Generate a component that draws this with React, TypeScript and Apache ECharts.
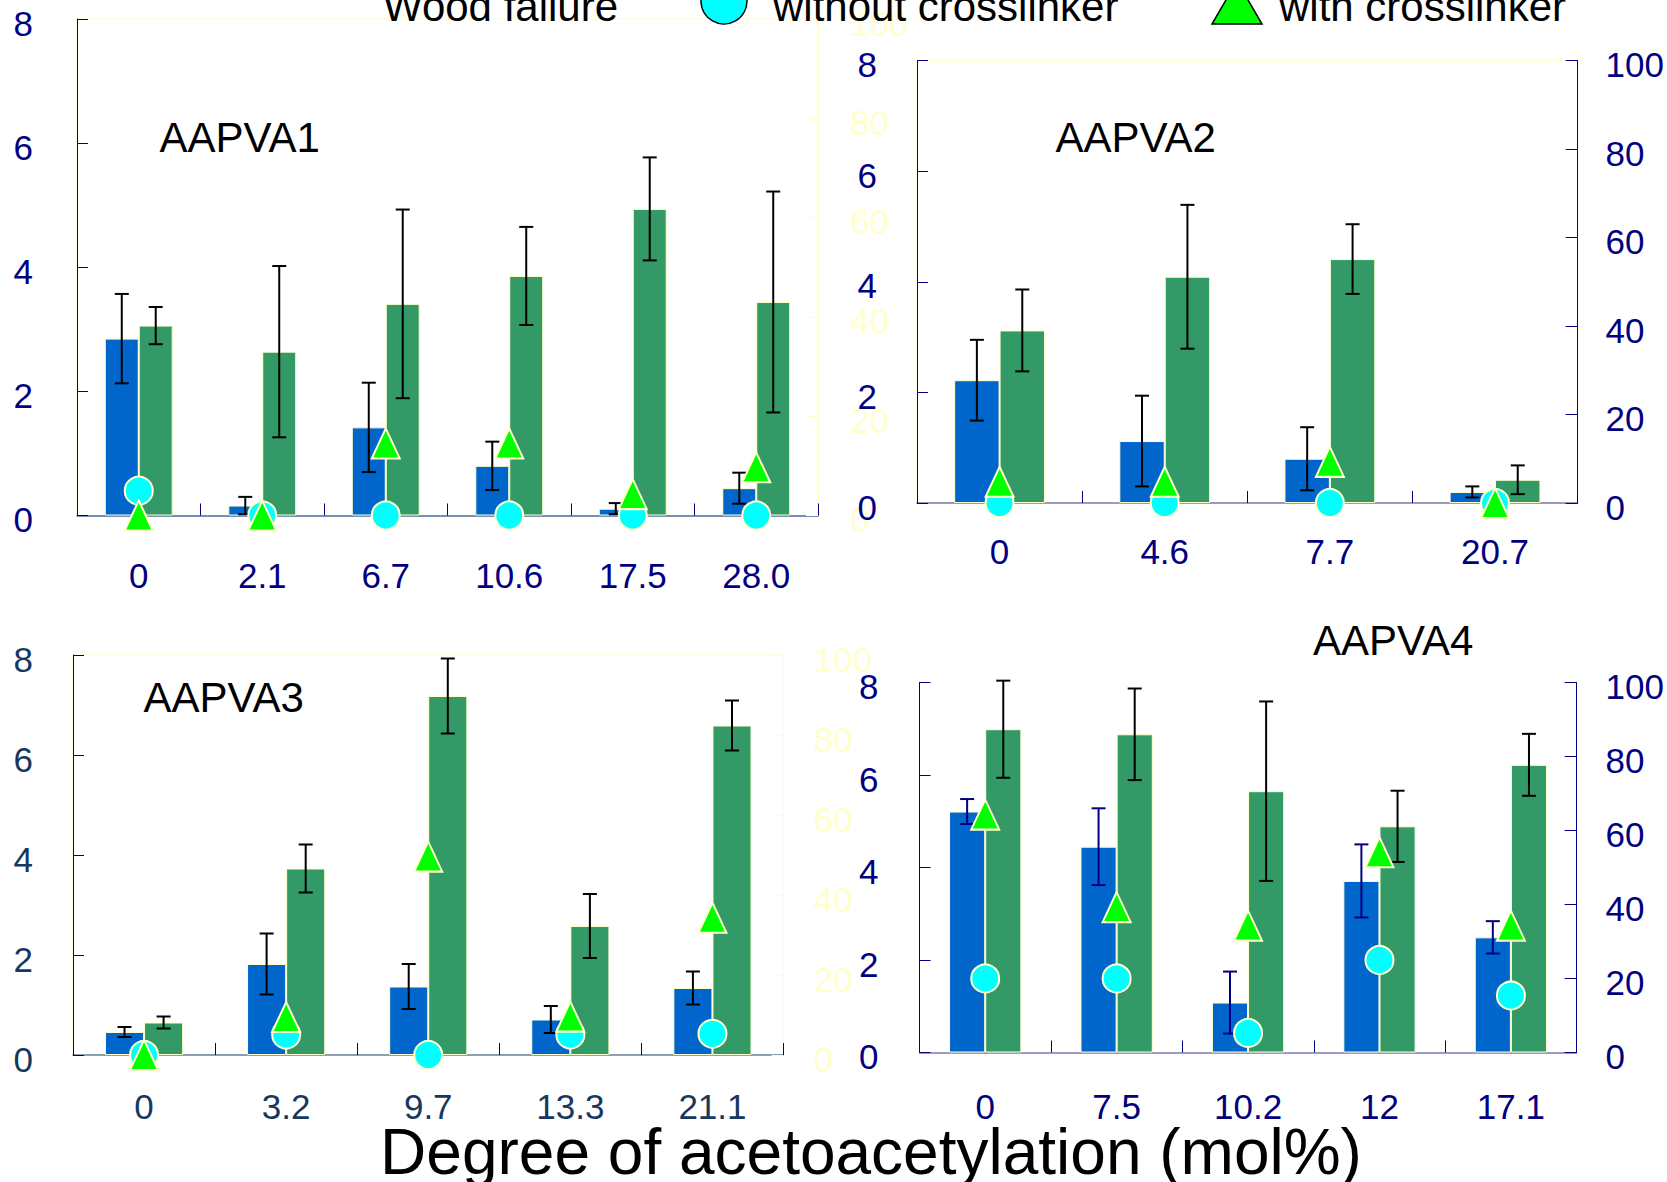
import React, { useEffect, useRef } from "react";
import * as echarts from "echarts";

// ---------- data ----------
const cats1 = ["0", "2.1", "6.7", "10.6", "17.5", "28.0"];
const blue1 = [2.85, 0.16, 1.42, 0.8, 0.11, 0.44];
const blueErr1 = [0.72, 0.14, 0.72, 0.39, 0.09, 0.25];
const green1 = [3.06, 2.64, 3.41, 3.86, 4.94, 3.44];
const greenErr1 = [0.3, 1.38, 1.52, 0.79, 0.83, 1.78];
const wfWithout1 = [5, 0, 0, 0, 0, 0];
const wfWith1 = [0, 0, 14.5, 14.5, 4.3, 9.7];

const cats2 = ["0", "4.6", "7.7", "20.7"];
const blue2 = [2.22, 1.12, 0.8, 0.2];
const blueErr2 = [0.73, 0.82, 0.57, 0.1];
const green2 = [3.12, 4.09, 4.41, 0.42];
const greenErr2 = [0.74, 1.3, 0.63, 0.26];
const wfWithout2 = [0, 0, 0, 0];
const wfWith2 = [4.8, 4.8, 9.3, 0];

const cats3 = ["0", "3.2", "9.7", "13.3", "21.1"];
const blue3 = [0.46, 1.82, 1.37, 0.71, 1.34];
const blueErr3 = [0.1, 0.61, 0.45, 0.27, 0.33];
const green3 = [0.65, 3.73, 7.18, 2.58, 6.59];
const greenErr3 = [0.12, 0.48, 0.75, 0.64, 0.5];
const wfWithout3 = [0, 5.1, 0, 5.1, 5.3];
const wfWith3 = [0, 9.5, 49.6, 9.6, 34.3];

const cats4 = ["0", "7.5", "10.2", "12", "17.1"];
const blue4 = [5.21, 4.45, 1.08, 3.71, 2.49];
const blueErr4 = [0.27, 0.83, 0.67, 0.79, 0.35];
const green4 = [6.99, 6.88, 5.65, 4.89, 6.22];
const greenErr4 = [1.05, 0.99, 1.94, 0.77, 0.67];
const wfWithout4 = [20, 20, 5.3, 25, 15.4];
const wfWith4 = [64.3, 39.3, 34.3, 54.1, 34.3];

const panelTitles = ["AAPVA1", "AAPVA2", "AAPVA3", "AAPVA4"];
const legendLabels = ["Wood failure", "without crosslinker", "with crosslinker"];
const xAxisTitle = "Degree of acetoacetylation (mol%)";

// ---------- style ----------
const NAVY = "#000080";
const SLATE = "#17375E";
const PALE = "#FFFFCC";
const BLUE = "#0066CC";
const GREEN = "#339966";
const CYAN = "#00FFFF";
const LIME = "#00FF00";
const SANS = "'Liberation Sans', Arial, sans-serif";
const BAR_FRAC = 0.275;

type Panel = {
  cats: string[];
  blue: number[];
  blueErr: number[];
  green: number[];
  greenErr: number[];
  wo: number[];
  wi: number[];
  grid: { left: number; top: number; width: number; height: number; border: boolean };
  leftColor: string;
  rightColor: string;
  rightLineColor: string;
  xColor: string;
  xLineColor: string;
  blueErrColor: string;
  leftMargin: number;
  rightMargin: number;
  xMargin: number;
};

const panels: Panel[] = [
  {
    cats: cats1, blue: blue1, blueErr: blueErr1, green: green1, greenErr: greenErr1, wo: wfWithout1, wi: wfWith1,
    grid: { left: 77, top: 19, width: 741, height: 496.5, border: true },
    leftColor: NAVY, rightColor: PALE, rightLineColor: PALE, xColor: NAVY, xLineColor: "#4F6A9A",
    blueErrColor: "#000000", leftMargin: 44, rightMargin: 32, xMargin: 42,
  },
  {
    cats: cats2, blue: blue2, blueErr: blueErr2, green: green2, greenErr: greenErr2, wo: wfWithout2, wi: wfWith2,
    grid: { left: 917, top: 60.5, width: 665, height: 442.5, border: true },
    leftColor: NAVY, rightColor: NAVY, rightLineColor: NAVY, xColor: NAVY, xLineColor: "#7A7AB0",
    blueErrColor: "#000000", leftMargin: 40, rightMargin: 28, xMargin: 31,
  },
  {
    cats: cats3, blue: blue3, blueErr: blueErr3, green: green3, greenErr: greenErr3, wo: wfWithout3, wi: wfWith3,
    grid: { left: 73, top: 655, width: 710.5, height: 400, border: true },
    leftColor: SLATE, rightColor: PALE, rightLineColor: PALE, xColor: SLATE, xLineColor: "#6A7FA0",
    blueErrColor: "#000000", leftMargin: 40, rightMargin: 30, xMargin: 34,
  },
  {
    cats: cats4, blue: blue4, blueErr: blueErr4, green: green4, greenErr: greenErr4, wo: wfWithout4, wi: wfWith4,
    grid: { left: 919.5, top: 682.5, width: 659.5, height: 370, border: false },
    leftColor: NAVY, rightColor: NAVY, rightLineColor: NAVY, xColor: NAVY, xLineColor: "#7A7AB8",
    blueErrColor: NAVY, leftMargin: 41, rightMargin: 29, xMargin: 36,
  },
];

function errSeries(k: number, vals: number[], errs: number[], color: string, side: number) {
  return {
    type: "custom",
    xAxisIndex: k,
    yAxisIndex: 2 * k,
    z: 5,
    silent: true,
    clip: false,
    data: vals.map((v, i) => [i, v, errs[i]]),
    encode: { x: 0, y: 1 },
    renderItem: (params: any, api: any) => {
      const i = api.value(0);
      const v = api.value(1);
      const e = api.value(2);
      const bw = api.size([1, 0])[0] * BAR_FRAC;
      const pTop = api.coord([i, v + e]);
      const pBot = api.coord([i, v - e]);
      const x = pTop[0] + (side * bw) / 2;
      const h = 7;
      const st = { stroke: color, lineWidth: 2 };
      return {
        type: "group",
        children: [
          { type: "line", shape: { x1: x, y1: pTop[1], x2: x, y2: pBot[1] }, style: st },
          { type: "line", shape: { x1: x - h, y1: pTop[1], x2: x + h, y2: pTop[1] }, style: st },
          { type: "line", shape: { x1: x - h, y1: pBot[1], x2: x + h, y2: pBot[1] }, style: st },
        ],
      };
    },
  };
}

function buildOption() {
  const grid: any[] = [];
  const xAxis: any[] = [];
  const yAxis: any[] = [];
  const series: any[] = [];
  panels.forEach((p, k) => {
    grid.push({
      left: p.grid.left,
      top: p.grid.top,
      width: p.grid.width,
      height: p.grid.height,
      show: p.grid.border,
      borderColor: PALE,
      borderWidth: 1,
      backgroundColor: "transparent",
      containLabel: false,
    });
    xAxis.push({
      type: "category",
      gridIndex: k,
      data: p.cats,
      axisLine: { show: true, lineStyle: { color: p.xLineColor, width: 1.5 } },
      axisTick: { show: true, inside: true, length: 12, lineStyle: { color: NAVY, width: 1 } },
      axisLabel: { color: p.xColor, fontSize: 35, fontFamily: SANS, margin: p.xMargin },
      splitLine: { show: false },
    });
    yAxis.push({
      type: "value",
      gridIndex: k,
      min: 0,
      max: 8,
      interval: 2,
      position: "left",
      axisLine: { show: true, lineStyle: { color: NAVY, width: 1 } },
      axisTick: { show: true, inside: true, length: 11, lineStyle: { color: NAVY } },
      axisLabel: {
        color: p.leftColor, fontSize: 35, fontFamily: SANS, margin: p.leftMargin,
        verticalAlign: "top", lineHeight: 8,
      },
      splitLine: { show: false },
    });
    yAxis.push({
      type: "value",
      gridIndex: k,
      min: 0,
      max: 100,
      interval: 20,
      position: "right",
      axisLine: { show: true, lineStyle: { color: p.rightLineColor, width: 1 } },
      axisTick: { show: true, inside: true, length: 12, lineStyle: { color: p.rightLineColor } },
      axisLabel: {
        color: p.rightColor, fontSize: 35, fontFamily: SANS, margin: p.rightMargin,
        verticalAlign: "top", lineHeight: 8,
      },
      splitLine: { show: false },
    });
    series.push({
      type: "bar",
      xAxisIndex: k,
      yAxisIndex: 2 * k,
      data: p.blue,
      barWidth: BAR_FRAC * 100 + "%",
      barGap: "0%",
      itemStyle: { color: BLUE, borderColor: PALE, borderWidth: 1 },
      z: 2,
    });
    series.push({
      type: "bar",
      xAxisIndex: k,
      yAxisIndex: 2 * k,
      data: p.green,
      barWidth: BAR_FRAC * 100 + "%",
      barGap: "0%",
      itemStyle: { color: GREEN, borderColor: PALE, borderWidth: 1 },
      z: 2,
    });
    series.push(errSeries(k, p.blue, p.blueErr, p.blueErrColor, -1));
    series.push(errSeries(k, p.green, p.greenErr, "#000000", 1));
    series.push({
      type: "scatter",
      xAxisIndex: k,
      yAxisIndex: 2 * k + 1,
      data: p.wo,
      symbol: "circle",
      symbolSize: 28,
      itemStyle: { color: CYAN, borderColor: PALE, borderWidth: 2, opacity: 1 },
      z: 6,
      clip: false,
    });
    series.push({
      type: "scatter",
      xAxisIndex: k,
      yAxisIndex: 2 * k + 1,
      data: p.wi,
      symbol: "triangle",
      symbolSize: [28, 30],
      itemStyle: { color: LIME, borderColor: PALE, borderWidth: 2, opacity: 1 },
      z: 7,
      clip: false,
    });
  });

  const titlePos = [
    [159.5, 137],
    [1055.5, 137],
    [143.5, 697],
    [1313, 640],
  ];
  const graphic: any[] = panelTitles.map((t, i) => ({
    type: "text",
    x: titlePos[i][0],
    y: titlePos[i][1],
    z: 10,
    style: { text: t, fill: "#000", font: `42px ${SANS}`, textAlign: "left", textVerticalAlign: "middle" },
  }));
  graphic.push(
    {
      type: "text",
      x: 383,
      y: 6,
      z: 10,
      style: { text: legendLabels[0], fill: "#000", font: `42px ${SANS}`, textAlign: "left", textVerticalAlign: "middle" },
    },
    {
      type: "circle",
      z: 10,
      shape: { cx: 724, cy: 1, r: 23 },
      style: { fill: CYAN, stroke: "#000", lineWidth: 1.5 },
    },
    {
      type: "text",
      x: 773,
      y: 6,
      z: 10,
      style: { text: legendLabels[1], fill: "#000", font: `42px ${SANS}`, textAlign: "left", textVerticalAlign: "middle" },
    },
    {
      type: "polygon",
      z: 10,
      shape: { points: [[1212, 24], [1262, 24], [1237, -19]] },
      style: { fill: LIME, stroke: "#000", lineWidth: 1.5 },
    },
    {
      type: "text",
      x: 1279,
      y: 6,
      z: 10,
      style: { text: legendLabels[2], fill: "#000", font: `42px ${SANS}`, textAlign: "left", textVerticalAlign: "middle" },
    },
    {
      type: "text",
      x: 871,
      y: 1152,
      z: 10,
      style: { text: xAxisTitle, fill: "#000", font: `64px ${SANS}`, textAlign: "center", textVerticalAlign: "middle" },
    }
  );

  return {
    animation: false,
    backgroundColor: "#ffffff",
    grid,
    xAxis,
    yAxis,
    series,
    graphic,
  };
}

export default function App() {
  const ref = useRef<HTMLDivElement>(null);
  useEffect(() => {
    document.body.style.margin = "0";
    if (!ref.current) return;
    const chart = echarts.init(ref.current, null, { renderer: "svg" });
    chart.setOption(buildOption() as any);
    return () => chart.dispose();
  }, []);
  return <div ref={ref} style={{ width: 1667, height: 1182 }} />;
}
